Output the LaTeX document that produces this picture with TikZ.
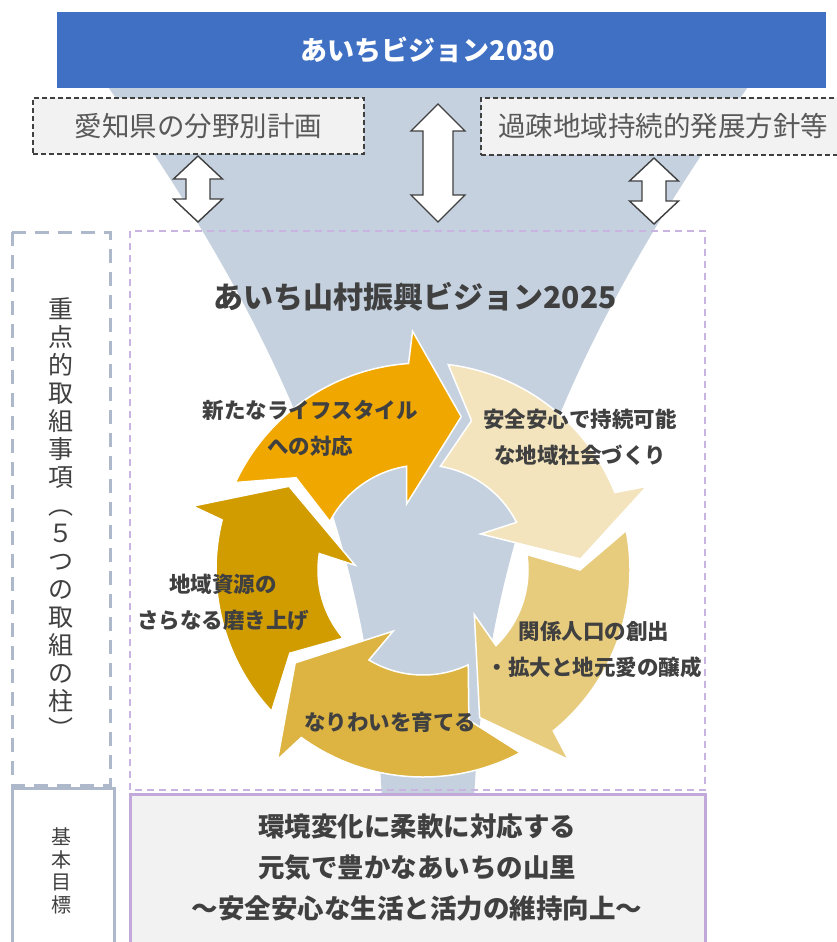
\documentclass[tikz,border=0pt]{standalone}
\usepackage{fontspec}
\setmainfont{Noto Sans CJK JP}
\definecolor{barblue}{HTML}{4070C4}
\definecolor{funnelc}{HTML}{C5D1DE}
\definecolor{boxgrey}{HTML}{F2F2F2}
\definecolor{linedark}{HTML}{404040}
\definecolor{txtgrey}{HTML}{595959}
\definecolor{txtdark}{HTML}{404040}
\definecolor{colbox}{HTML}{ADB9CA}
\definecolor{purpdash}{HTML}{C9B3E0}
\definecolor{purpsolid}{HTML}{C3A8DA}
\definecolor{cOrange}{HTML}{F0A800}
\definecolor{cCream}{HTML}{F3E4BD}
\definecolor{cSand}{HTML}{E8CC7E}
\definecolor{cMustard}{HTML}{DDB441}
\definecolor{cGold}{HTML}{D19C00}
% cycle arrow: #1 tip angle, #2 previous tip angle (larger than #1), #3 colour
\newcommand\cyclearrow[3]{%
  \pgfmathsetmacro\cTo{#2+7}%
  \pgfmathsetmacro\cTn{#2-4}%
  \pgfmathsetmacro\cTi{#2+4.5}%
  \pgfmathsetmacro\cBO{#1+18}%
  \pgfmathsetmacro\cOW{#1+16.5}%
  \pgfmathsetmacro\cIW{#1+28}%
  \pgfmathsetmacro\cBI{#1+23}%
  \filldraw[fill=#3, draw=white, line width=1.5pt, line join=miter]
    (\cTo:207pt) arc[start angle=\cTo, end angle=\cBO, radius=207pt]
    -- (\cOW:239pt) -- (#1:158pt) -- (\cIW:68pt) -- (\cBI:105pt)
    arc[start angle=\cBI, end angle=\cTi, radius=105pt]
    -- (\cTn:157pt) -- cycle;
}
\begin{document}
\begin{tikzpicture}[x=1pt,y=-1pt,
  darrow/.style={fill=white, draw=linedark, line width=1.4pt, line join=miter},
  planbox/.style={draw=linedark, dash pattern=on 5pt off 3pt, fill=boxgrey, line width=1.3pt,
    text=txtgrey, font=\fontsize{27.5}{30}\selectfont, inner sep=0pt},
  cyc/.style={font=\bfseries\fontsize{21.5}{36}\selectfont, text=txtdark, align=center},
]
\useasboundingbox (0,0) rectangle (836,942);
\fill[white] (0,0) rectangle (836,942);

% funnel
\fill[funnelc] (106,84) -- (750,84) .. controls (570,338) and (486.5,542) .. (474,800)
  -- (382,800) .. controls (369.5,542) and (286,338) .. (106,84) -- cycle;

% top bar
\fill[barblue] (57,12) rectangle (826,88);
\node[text=white, font=\bfseries\fontsize{27}{30}\selectfont] (bar) at (428,50) {あいちビジョン2030};

% plan boxes
\node[planbox, minimum width=331pt, minimum height=56pt] (plan) at (198.5,126) {愛知県の分野別計画};
\node[planbox, minimum width=364pt, minimum height=57pt] (kaso) at (663,126.5) {過疎地域持続的発展方針等};

% double arrows
\draw[darrow] (198,156) -- (222.5,179) -- (210,179) -- (210,199) -- (222.5,199) -- (198,222)
  -- (173.5,199) -- (186,199) -- (186,179) -- (173.5,179) -- cycle;
\draw[darrow] (438,104) -- (465,131) -- (453,131) -- (453,195) -- (465,195) -- (438,222)
  -- (411,195) -- (423,195) -- (423,131) -- (411,131) -- cycle;
\draw[darrow] (654,158) -- (678.5,181) -- (666,181) -- (666,201) -- (678.5,201) -- (654,224)
  -- (629.5,201) -- (642,201) -- (642,181) -- (629.5,181) -- cycle;

% left column
\draw[colbox, line width=3pt, dash pattern=on 14pt off 9pt] (12,232) rectangle (110,785);
\node[font=\fontsize{25}{28}\selectfont, text=txtdark, align=center] (pillars) at (61,518)
  {重\\点\\的\\取\\組\\事\\項\\︵\\５\\つ\\の\\取\\組\\の\\柱\\︶};
\draw[colbox, line width=3pt, fill=white] (12,788) rectangle (114,948);
\node[font=\fontsize{20}{22.5}\selectfont, text=txtdark, align=center] (goallabel) at (61,871)
  {基\\本\\目\\標};

% main area
\draw[purpdash, line width=1.5pt, dash pattern=on 7pt off 5pt] (130,231) rectangle (705,790);
\node[font=\bfseries\fontsize{30}{32}\selectfont, text=txtdark] (title) at (415,297) {あいち山村振興ビジョン2025};

% cycle
\begin{scope}[shift={(423,570)}]
  \cyclearrow{148}{216}{cGold}
  \cyclearrow{76}{148}{cOrange}
  \cyclearrow{4}{76}{cCream}
  \cyclearrow{-69}{4}{cSand}
  \cyclearrow{-144}{-69}{cMustard}
\end{scope}

\node[cyc] (l1) at (310,428.5) {新たなライフスタイル\\への対応};
\node[cyc] (l2) at (580,437.5) {安全安心で持続可能\\な地域社会づくり};
\node[cyc] (l3) at (594,649.5) {関係人口の創出\\・拡大と地元愛の醸成};
\node[cyc] (l4) at (223,602.5) {地域資源の\\さらなる磨き上げ};
\node[cyc] (l5) at (390,722) {なりわいを育てる};

% goal box
\draw[purpsolid, line width=3pt, fill=boxgrey] (130,794) rectangle (705,948);
\node[font=\bfseries\fontsize{26.5}{41}\selectfont, text=txtdark, align=center] (goal) at (417,867)
  {環境変化に柔軟に対応する\\元気で豊かなあいちの山里\\～安全安心な生活と活力の維持向上～};
\end{tikzpicture}
\end{document}
